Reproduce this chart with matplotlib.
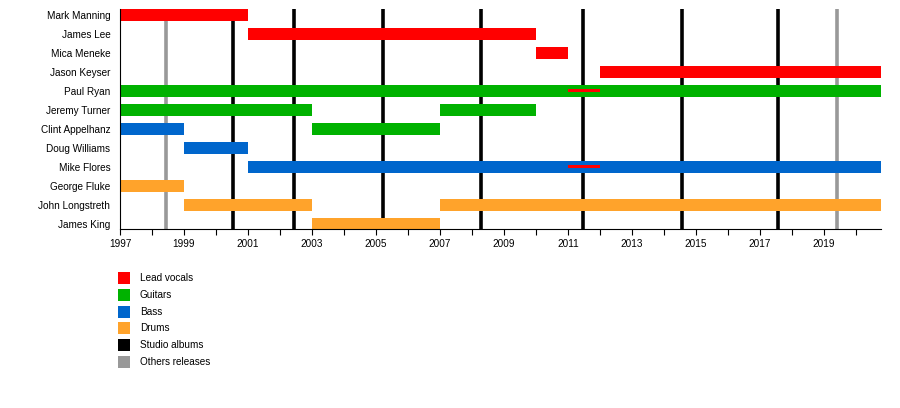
import matplotlib
matplotlib.use("Agg")
import matplotlib.pyplot as plt
from matplotlib.patches import Rectangle

plt.rcParams['font.family'] = ['Liberation Sans', 'DejaVu Sans']

members = ["Mark Manning", "James Lee", "Mica Meneke", "Jason Keyser", "Paul Ryan",
           "Jeremy Turner", "Clint Appelhanz", "Doug Williams", "Mike Flores",
           "George Fluke", "John Longstreth", "James King"]

END = 2020.78
# (member index, start, end, role)
periods = [
    (0, 1997, 2001, "vocals"),
    (1, 2001, 2010, "vocals"),
    (2, 2010, 2011, "vocals"),
    (3, 2012, END, "vocals"),
    (4, 1997, END, "guitars"),
    (5, 1997, 2003, "guitars"),
    (5, 2007, 2010, "guitars"),
    (6, 1997, 1999, "bass"),
    (6, 2003, 2007, "guitars"),
    (7, 1999, 2001, "bass"),
    (8, 2001, END, "bass"),
    (9, 1997, 1999, "drums"),
    (10, 1999, 2003, "drums"),
    (10, 2007, END, "drums"),
    (11, 2003, 2007, "drums"),
]
# thin secondary-role bars
secondary = [
    (4, 2011, 2012, "vocals"),
    (8, 2011, 2012, "vocals"),
]

studio_albums = [2000.53, 2002.44, 2005.22, 2008.28, 2011.47, 2014.56, 2017.56]
other_releases = [1998.44, 2019.41]

role_colors = {"vocals": "#ff0000", "guitars": "#00b200", "bass": "#0066cc",
               "drums": "#ffa32b"}
legend_labels = ["Lead vocals", "Guitars", "Bass", "Drums", "Studio albums", "Others releases"]
legend_colors = ["#ff0000", "#00b200", "#0066cc", "#ffa32b", "#000000", "#999999"]

fig = plt.figure(figsize=(9, 4.08), dpi=100)
ax = fig.add_axes([120/900, 1-229/408, (881-120)/900, (229-9)/408])

for x in other_releases:
    ax.axvline(x, color="#999999", lw=2.6, zorder=1)
for x in studio_albums:
    ax.axvline(x, color="#000000", lw=2.6, zorder=1)

for i, s, e, r in periods:
    ax.barh(i, e - s, left=s, height=0.63, color=role_colors[r], zorder=2, linewidth=0)
for i, s, e, r in secondary:
    ax.barh(i, e - s, left=s, height=0.16, color=role_colors[r], zorder=3, linewidth=0)

ax.set_xlim(1997, END)
ax.set_ylim(11.27, -0.315)
ax.set_yticks(range(len(members)))
ax.set_yticklabels(members, fontsize=7.2)
ax.tick_params(axis='y', length=0, pad=7)
ax.set_xticks(range(1997, 2021, 2))
ax.set_xticklabels([str(y) for y in range(1997, 2021, 2)], fontsize=7.2)
ax.set_xticks(range(1998, 2021, 2), minor=True)
ax.tick_params(axis='x', which='both', length=4, width=0.8, direction='out', pad=3)
for sp in ["top", "right"]:
    ax.spines[sp].set_visible(False)
ax.spines["left"].set_linewidth(0.8)
ax.spines["bottom"].set_linewidth(0.8)

# legend
lax = fig.add_axes([0, 0, 1, 1])
lax.set_xlim(0, 900)
lax.set_ylim(408, 0)
lax.axis("off")
for k, (lab, col) in enumerate(zip(legend_labels, legend_colors)):
    yc = 278 + k * 16.8
    lax.add_patch(Rectangle((118, yc - 6), 12, 12, color=col, lw=0))
    lax.text(140, yc, lab, fontsize=7.2, va="center", ha="left")

fig.savefig("out.png", dpi=100)
